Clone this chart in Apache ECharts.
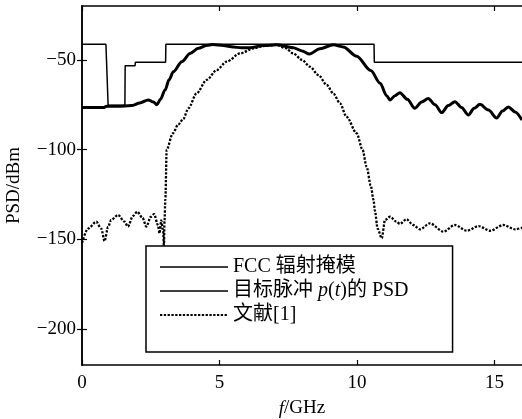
<!DOCTYPE html>
<html>
<head>
<meta charset="utf-8">
<script src="https://cdn.jsdelivr.net/npm/echarts@6/dist/echarts.min.js"></script>
<style>
html,body{margin:0;padding:0;background:#fff;}
#c{width:522px;height:419px;}
</style>
</head>
<body>
<div id="c"></div>
<script>
// ---- data ----
const legendNames = ['FCC 辐射掩模', '目标脉冲 p(t)的 PSD', '文献[1]'];
const xTicks = [0, 5, 10, 15];
const yTicks = [-200, -150, -100, -50];

const maskX = [0, 0.87, 0.95, 1.56, 1.57, 1.93, 1.94, 3.04, 3.05, 10.62, 10.63, 16];
const maskY = [-41.3, -41.3, -75.3, -75.3, -53.3, -53.3, -51.3, -51.3, -41.3, -41.3, -51.3, -51.3];

const psdX = [0, 0.8, 0.9, 1.3, 1.8, 2.1, 2.41, 2.6, 2.72, 2.85, 3.02, 3.17, 3.32, 3.63, 3.93, 4.23, 4.53, 4.75, 5.14, 5.5, 5.8, 6.11, 6.59, 7.07, 7.68, 8.0, 8.27, 8.65, 9.14, 9.5, 9.99, 10.5, 10.84, 11.08, 11.2, 11.38, 11.56, 11.83, 12.1, 12.35, 12.59, 12.84, 13.08, 13.32, 13.56, 13.8, 14.05, 14.26, 14.47, 14.78, 15.08, 15.29, 15.5, 15.75, 16];
const psdY = [-76.5, -76.5, -75.8, -75.8, -75.5, -74, -72.3, -73.5, -75, -72, -66.8, -61, -56.6, -51, -46.4, -43.6, -42, -41.5, -42, -42.8, -43.3, -43.3, -42, -41.6, -43.2, -45, -46.8, -43.8, -41.6, -42.8, -48, -56, -63, -70, -72.4, -70, -68.3, -72, -77, -73.5, -71.5, -75, -79.4, -75.5, -73.3, -76.5, -80.7, -77, -74.8, -78, -82.4, -78.5, -76.2, -79, -83.5];

const refX = [0, 0.22, 0.52, 0.7, 0.82, 0.95, 1.06, 1.31, 1.55, 1.67, 1.85, 2.01, 2.2, 2.34, 2.5, 2.62, 2.76, 2.82, 2.88, 2.95, 2.98, 3.0, 3.03, 3.08, 3.3, 3.5, 3.68, 3.87, 4.17, 4.53, 4.9, 5.26, 5.75, 6.24, 6.6, 7.07, 7.4, 7.68, 8.0, 8.29, 8.6, 8.9, 9.15, 9.38, 9.62, 9.99, 10.2, 10.35, 10.5, 10.6, 10.65, 10.75, 10.9, 11.02, 11.2, 11.44, 11.56, 11.8, 12.04, 12.29, 12.65, 13.14, 13.56, 13.99, 14.42, 14.84, 15.32, 15.75, 16];
const refY = [-152, -144, -140.2, -144, -151, -143, -139.2, -136.4, -140.2, -142.9, -137, -134.6, -138, -142.9, -137.5, -135.9, -142, -146.6, -139.5, -145, -154, -140, -128, -100, -91, -86, -83, -77, -68.6, -61.2, -55.7, -51, -46.4, -43.6, -42.3, -41.6, -43.5, -46.4, -50, -53.8, -58.5, -64, -69, -74.2, -81.7, -91, -100, -109.5, -120, -128, -134, -144, -149.4, -139.2, -137.4, -140.2, -141.4, -138.8, -142, -144.4, -141.1, -145.7, -142, -145.2, -142.6, -145.2, -142, -144.4, -143.5];

function pairs(xs, ys) { return xs.map((x, i) => [x, ys[i]]); }

const FONT = "'Liberation Serif', 'Times New Roman', 'Noto Sans CJK SC', serif";
const minusFmt = v => (v < 0 ? '\u2212' + Math.abs(v) : String(v));

const chart = echarts.init(document.getElementById('c'), null, { renderer: 'canvas' });

const axisCommon = {
  axisLine: { show: true, lineStyle: { color: '#000', width: 1.5 } },
  splitLine: { show: false }
};

chart.setOption({
  animation: false,
  backgroundColor: '#fff',
  color: ['#000', '#000', '#000'],
  grid: { left: 82, right: 0, top: 6, bottom: 54, containLabel: false, outerBoundsMode: 'none' },
  xAxis: [
    Object.assign({
      type: 'value', min: 0, max: 16, position: 'bottom',
      name: '{i|f}/GHz', nameLocation: 'middle', nameGap: 34,
      nameTextStyle: { color: '#000', fontFamily: FONT, fontSize: 19,
        rich: { i: { fontStyle: 'italic', fontFamily: FONT, fontSize: 19, color: '#000' } } },
      axisTick: { show: true, inside: true, length: 5, customValues: xTicks, lineStyle: { color: '#000', width: 1.2 } },
      axisLabel: { show: true, customValues: xTicks, margin: 9, color: '#000', fontFamily: FONT, fontSize: 19 }
    }, axisCommon),
    Object.assign({
      type: 'value', min: 0, max: 16, position: 'top',
      axisTick: { show: true, inside: true, length: 5, customValues: xTicks, lineStyle: { color: '#000', width: 1.2 } },
      axisLabel: { show: false }
    }, axisCommon)
  ],
  yAxis: [
    Object.assign({
      type: 'value', min: -220, max: -20, position: 'left',
      name: 'PSD/dBm', nameLocation: 'middle', nameGap: 58, nameRotate: 90,
      nameTextStyle: { color: '#000', fontFamily: FONT, fontSize: 19 },
      axisTick: { show: true, inside: true, length: 5, customValues: yTicks, lineStyle: { color: '#000', width: 1.2 } },
      axisLabel: { show: true, customValues: yTicks, margin: 6, color: '#000', fontFamily: FONT, fontSize: 19, formatter: minusFmt }
    }, axisCommon),
    Object.assign({
      type: 'value', min: -220, max: -20, position: 'right',
      axisTick: { show: true, inside: true, length: 5, customValues: yTicks, lineStyle: { color: '#000', width: 1.2 } },
      axisLabel: { show: false }
    }, axisCommon)
  ],
  legend: {
    left: 146, top: 246, orient: 'vertical',
    padding: [11, 44, 27, 13],
    itemWidth: 68, itemHeight: 14, itemGap: 4,
    borderColor: '#000', borderWidth: 1.5, backgroundColor: '#fff',
    itemStyle: { opacity: 0 },
    data: [
      { name: legendNames[0], lineStyle: { width: 1.5 } },
      { name: legendNames[1], lineStyle: { width: 1.5 } },
      { name: legendNames[2] }
    ],
    formatter: function (name) {
      if (name === legendNames[1]) return '目标脉冲 {i|p}({i|t})的 PSD';
      return name;
    },
    textStyle: { color: '#000', fontFamily: FONT, fontSize: 20,
      rich: { i: { fontStyle: 'italic', fontFamily: FONT, fontSize: 20, color: '#000' } } }
  },
  series: [
    {
      name: legendNames[2], type: 'line', data: pairs(refX, refY),
      symbol: 'none', smooth: 0.3, smoothMonotone: 'x',
      itemStyle: { color: '#000' },
      lineStyle: { color: '#000', width: 2.3, type: [2.3, 1.5] }
    },
    {
      name: legendNames[1], type: 'line', data: pairs(psdX, psdY),
      symbol: 'none', smooth: 0.3, smoothMonotone: 'x',
      itemStyle: { color: '#000' },
      lineStyle: { color: '#000', width: 3 }
    },
    {
      name: legendNames[0], type: 'line', data: pairs(maskX, maskY),
      symbol: 'none',
      itemStyle: { color: '#000' },
      lineStyle: { color: '#000', width: 1.5 }
    }
  ]
});
</script>
</body>
</html>
